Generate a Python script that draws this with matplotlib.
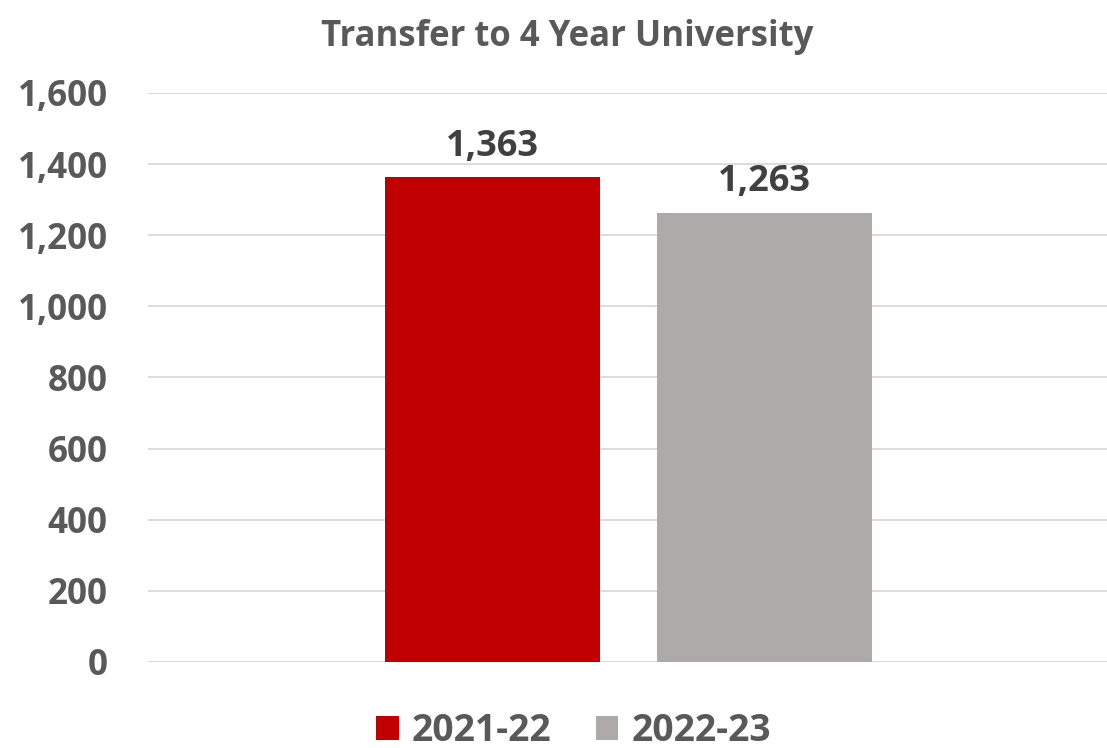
import matplotlib
matplotlib.use("Agg")
from matplotlib import pyplot as plt
import numpy as np

# data
series = ["2021-22", "2022-23"]
values = [1363, 1263]
colors = ["#C00000", "#AEAAAA"]
title = "Transfer to 4 Year University"
yticks = [0, 200, 400, 600, 800, 1000, 1200, 1400, 1600]

plt.rcParams["font.family"] = ["Open Sans", "DejaVu Sans"]
plt.rcParams["font.weight"] = "bold"

fig = plt.figure(figsize=(11.07, 7.48), dpi=100)
ax = fig.add_axes([0.1337, 0.115, 0.866, 0.7607])

width = 0.224
offsets = [-0.141, 0.143]
for name, val, col, off in zip(series, values, colors, offsets):
    bar = ax.bar(off, val, width=width, color=col, label=name, zorder=3)
    ax.annotate(f"{val:,}", (off, val), xytext=(0, 9), textcoords="offset points",
                ha="center", va="bottom", fontsize=26, fontweight="bold", color="#404040")

ax.set_xlim(-0.5, 0.5)
ax.set_ylim(0, 1600)
ax.set_yticks(yticks)
ax.set_yticklabels([f"{t:,}" for t in yticks])
ax.set_xticks([])
ax.tick_params(axis="y", length=0, pad=29, labelsize=25.2, labelcolor="#595959")
ax.grid(axis="y", color="#D9D9D9", linewidth=1.3, zorder=0)
for s in ax.spines.values():
    s.set_visible(False)
for lbl in ax.get_yticklabels():
    lbl.set_fontweight("bold")

fig.suptitle(title, x=0.512, y=0.975, fontsize=25, fontweight="bold", color="#595959")

leg = fig.legend(loc="lower center", bbox_to_anchor=(0.518, -0.048), ncol=2, frameon=False,
                 fontsize=26.8, handlelength=0.6, handleheight=0.6, handletextpad=0.35,
                 columnspacing=1.2)
for t in leg.get_texts():
    t.set_color("#595959")
    t.set_fontweight("bold")

fig.savefig("out.png", dpi=100)
